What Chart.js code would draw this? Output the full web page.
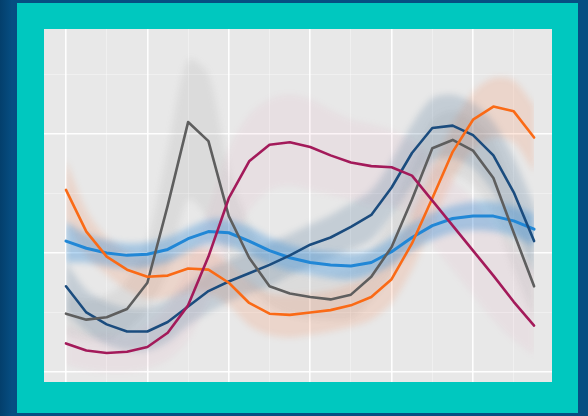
<!DOCTYPE html>
<html>
<head>
<meta charset="utf-8">
<script src="https://cdn.jsdelivr.net/npm/chart.js@4.4.1/dist/chart.umd.min.js"></script>
<style>
  html, body { margin: 0; padding: 0; }
  body {
    width: 588px; height: 416px; overflow: hidden; position: relative;
    background: linear-gradient(90deg, #033f6c 0px, #064e82 12px, #064e82 100%);
    font-family: "DejaVu Sans", sans-serif;
  }
  #frame {
    position: absolute; left: 17px; top: 3px; width: 561px; height: 410px;
    background: #00c8bf;
  }
  #plot {
    position: absolute; left: 44px; top: 29px; width: 508px; height: 353px;
    background: #e8e8e8;
  }
</style>
</head>
<body>
<div id="frame"></div>
<div id="plot"><canvas id="chart"></canvas></div>
<script>
// Hour of day for every profile
const hours = [0, 1, 2, 3, 4, 5, 6, 7, 8, 9, 10, 11, 12, 13, 14, 15, 16, 17, 18, 19, 20, 21, 22, 23];

// Grid positions
const xTicks = [0, 2, 4, 6, 8, 10, 12, 14, 16, 18, 20, 22];
const yTicks = [0, 0.5, 1, 1.5, 2, 2.5];

// Cluster mean profiles
const orangeMean  = [1.53, 1.18, 0.97, 0.86, 0.80, 0.81, 0.87, 0.86, 0.75, 0.58, 0.49, 0.48, 0.50, 0.52, 0.56, 0.63, 0.78, 1.08, 1.46, 1.85, 2.12, 2.23, 2.19, 1.97];
const navyMean    = [0.72, 0.50, 0.40, 0.34, 0.34, 0.42, 0.55, 0.68, 0.76, 0.83, 0.90, 0.98, 1.07, 1.13, 1.22, 1.32, 1.55, 1.84, 2.05, 2.07, 1.99, 1.82, 1.51, 1.10];
const greyMean    = [0.49, 0.44, 0.46, 0.53, 0.75, 1.40, 2.10, 1.94, 1.31, 0.96, 0.72, 0.66, 0.63, 0.61, 0.65, 0.80, 1.05, 1.45, 1.88, 1.95, 1.86, 1.63, 1.17, 0.72];
const magentaMean = [0.24, 0.18, 0.16, 0.17, 0.21, 0.33, 0.56, 0.97, 1.46, 1.77, 1.91, 1.93, 1.89, 1.82, 1.76, 1.73, 1.72, 1.65, 1.44, 1.23, 1.02, 0.81, 0.59, 0.39];
const skyMean     = [1.10, 1.04, 1.00, 0.98, 0.99, 1.03, 1.12, 1.18, 1.17, 1.10, 1.02, 0.96, 0.92, 0.90, 0.89, 0.92, 1.01, 1.13, 1.23, 1.29, 1.31, 1.31, 1.27, 1.20];

// Spread of the individual profiles in each cluster (upper / lower envelope)
const orangeHi  = [1.78, 1.36, 1.13, 1.01, 0.96, 0.97, 1.04, 1.03, 0.92, 0.76, 0.66, 0.65, 0.66, 0.69, 0.74, 0.82, 1.01, 1.32, 1.70, 2.08, 2.35, 2.47, 2.45, 2.24];
const orangeLo  = [1.28, 0.98, 0.82, 0.69, 0.62, 0.62, 0.67, 0.66, 0.56, 0.39, 0.31, 0.29, 0.31, 0.34, 0.38, 0.44, 0.58, 0.86, 1.24, 1.61, 1.87, 1.97, 1.93, 1.68];
const navyHi    = [0.92, 0.69, 0.59, 0.54, 0.54, 0.61, 0.73, 0.86, 0.94, 1.01, 1.08, 1.16, 1.24, 1.32, 1.42, 1.53, 1.78, 2.08, 2.30, 2.33, 2.26, 2.10, 1.80, 1.40];
const navyLo    = [0.50, 0.34, 0.23, 0.18, 0.18, 0.25, 0.39, 0.50, 0.59, 0.66, 0.72, 0.81, 0.89, 0.96, 1.03, 1.11, 1.32, 1.57, 1.78, 1.80, 1.71, 1.51, 1.21, 0.82];
const greyHi    = [0.65, 0.61, 0.65, 0.77, 1.11, 1.87, 2.62, 2.50, 1.70, 1.24, 0.94, 0.86, 0.82, 0.82, 0.86, 1.03, 1.32, 1.74, 2.12, 2.20, 2.12, 1.95, 1.53, 1.11];
const greyLo    = [0.31, 0.27, 0.27, 0.35, 0.52, 0.86, 1.45, 1.28, 0.94, 0.73, 0.56, 0.48, 0.45, 0.44, 0.45, 0.61, 0.82, 1.15, 1.57, 1.66, 1.57, 1.32, 0.86, 0.44];
const magentaHi = [0.39, 0.31, 0.31, 0.31, 0.39, 0.56, 0.90, 1.36, 1.87, 2.16, 2.29, 2.33, 2.29, 2.20, 2.12, 2.08, 2.03, 1.95, 1.78, 1.61, 1.45, 1.24, 1.03, 0.86];
const magentaLo = [0.06, 0.02, 0.00, 0.00, 0.03, 0.10, 0.27, 0.61, 1.03, 1.36, 1.53, 1.57, 1.53, 1.49, 1.45, 1.40, 1.40, 1.32, 1.07, 0.86, 0.65, 0.44, 0.27, 0.14];
const skyHi     = [1.26, 1.16, 1.11, 1.08, 1.09, 1.13, 1.21, 1.28, 1.28, 1.22, 1.13, 1.07, 1.03, 1.01, 1.00, 1.03, 1.13, 1.25, 1.34, 1.40, 1.43, 1.43, 1.39, 1.33];
const skyLo     = [0.92, 0.92, 0.89, 0.87, 0.88, 0.92, 1.01, 1.08, 1.06, 0.99, 0.91, 0.85, 0.82, 0.79, 0.78, 0.82, 0.90, 1.02, 1.11, 1.17, 1.19, 1.18, 1.14, 1.06];

const clusters = [
  { label: 'Cluster 5', mean: magentaMean, hi: magentaHi, lo: magentaLo, line: '#a31a5a', band: 'rgba(214, 80, 130, 0.06)',  width: 2.6, lineOrder: 1, bandOrder: 50 },
  { label: 'Cluster 4', mean: orangeMean,  hi: orangeHi,  lo: orangeLo,  line: '#fa6a16', band: 'rgba(250, 120, 60, 0.17)',  width: 2.6, lineOrder: 2, bandOrder: 30 },
  { label: 'Cluster 3', mean: greyMean,    hi: greyHi,    lo: greyLo,    line: '#5e5e5e', band: 'rgba(130, 130, 130, 0.12)', width: 2.6, lineOrder: 3, bandOrder: 40 },
  { label: 'Cluster 2', mean: navyMean,    hi: navyHi,    lo: navyLo,    line: '#1b4c7e', band: 'rgba(55, 100, 140, 0.20)',  width: 2.6, lineOrder: 4, bandOrder: 25 },
  { label: 'Cluster 1', mean: skyMean,     hi: skyHi,     lo: skyLo,     line: '#2187d6', band: 'rgba(40, 135, 215, 0.34)',  width: 3.0, lineOrder: 5, bandOrder: 20 }
];

const toPoints = arr => arr.map((v, i) => ({ x: hours[i], y: v }));

const datasets = [];
clusters.forEach(c => {
  datasets.push({
    label: c.label, data: toPoints(c.mean), borderColor: c.line, borderWidth: c.width,
    pointRadius: 0, tension: 0, fill: false, order: c.lineOrder,
    borderJoinStyle: 'round', borderCapStyle: 'round'
  });
});
clusters.forEach(c => {
  datasets.push({
    label: c.label + ' upper', data: toPoints(c.hi), borderWidth: 0, pointRadius: 0,
    tension: 0.3, fill: '+1', backgroundColor: c.band, order: c.bandOrder, band: true
  });
  datasets.push({
    label: c.label + ' lower', data: toPoints(c.lo), borderWidth: 0, pointRadius: 0,
    tension: 0.3, fill: false, order: c.bandOrder, band: true
  });
});

// Soften the envelope fills so they read as a haze of many thin profiles
function setHaze(chart, meta) {
  const ds = meta ? chart.data.datasets[meta.index] : null;
  chart.ctx.filter = ds && ds.band ? 'blur(3px)' : 'none';
}
const hazePlugin = {
  id: 'haze',
  beforeDatasetsDraw(chart) {
    const metas = chart.getSortedVisibleDatasetMetas();
    setHaze(chart, metas[metas.length - 1]);
  },
  afterDatasetDraw(chart, args) {
    const metas = chart.getSortedVisibleDatasetMetas();
    const p = metas.indexOf(args.meta);
    setHaze(chart, metas[p - 1]);
  },
  afterDatasetsDraw(chart) {
    chart.ctx.filter = 'none';
  }
};

const majorGrid = 'rgba(255,255,255,0.95)';
const minorGrid = 'rgba(255,255,255,0.35)';

new Chart(document.getElementById('chart'), {
  type: 'line',
  data: { datasets },
  plugins: [hazePlugin],
  options: {
    responsive: true,
    maintainAspectRatio: false,
    animation: false,
    layout: { padding: 0 },
    plugins: { legend: { display: false }, tooltip: { enabled: false } },
    scales: {
      x: {
        type: 'linear', min: -1.08, max: 23.88,
        afterBuildTicks: s => { s.ticks = xTicks.map(v => ({ value: v })); },
        ticks: { display: false },
        border: { display: false },
        grid: {
          drawTicks: false,
          color: c => (c.tick && c.tick.value % 4 === 0) ? majorGrid : minorGrid,
          lineWidth: c => (c.tick && c.tick.value % 4 === 0) ? 1.6 : 1
        }
      },
      y: {
        type: 'linear', min: -0.084, max: 2.882,
        afterBuildTicks: s => { s.ticks = yTicks.map(v => ({ value: v })); },
        ticks: { display: false },
        border: { display: false },
        grid: {
          drawTicks: false,
          color: c => (c.tick && c.tick.value % 1 === 0) ? majorGrid : minorGrid,
          lineWidth: c => (c.tick && c.tick.value % 1 === 0) ? 1.6 : 1
        }
      }
    }
  }
});
</script>
</body>
</html>
